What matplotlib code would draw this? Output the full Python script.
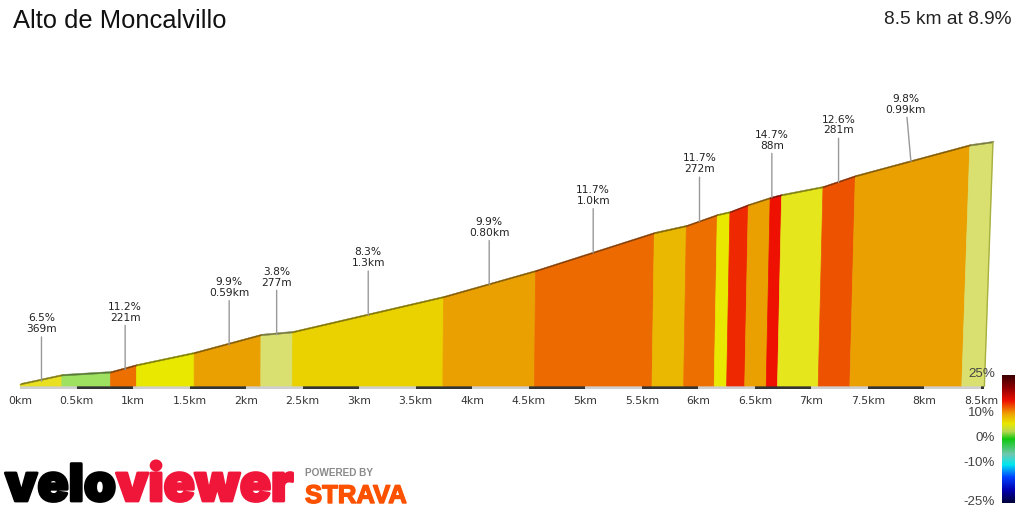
import matplotlib
matplotlib.use("Agg")
import matplotlib.pyplot as plt
import matplotlib.patheffects as pe
from matplotlib.colors import LinearSegmentedColormap, to_rgb
import numpy as np

# climb profile, boundaries of each gradient block
dist_km = [0, 0.37, 0.80, 1.03, 1.54, 2.13, 2.41, 3.74, 4.55, 5.59, 5.87, 6.14,
           6.25, 6.41, 6.60, 6.70, 7.06, 7.34, 8.33, 8.53]
elev_m = [3, 31, 40, 62, 100, 156, 165, 274, 355, 473, 495, 529,
          538, 560, 582, 591, 616, 650, 746, 756]
seg_colors = ["#e8e020", "#9ee05f", "#ec6f00", "#e8e800", "#eaa000", "#d9e070",
              "#ead200", "#eaa000", "#ec6a00", "#eab800", "#ec6f00", "#e8e800",
              "#ee2800", "#eaa000", "#ee1000", "#e6e61c", "#ec5200", "#eaa000",
              "#d9e070"]

# callouts
label_text = ["6.5%\n369m", "11.2%\n221m", "9.9%\n0.59km", "3.8%\n277m", "8.3%\n1.3km",
              "9.9%\n0.80km", "11.7%\n1.0km", "11.7%\n272m", "14.7%\n88m",
              "12.6%\n281m", "9.8%\n0.99km"]
label_km = [0.19, 0.93, 1.85, 2.27, 3.08, 4.15, 5.07, 6.01, 6.65, 7.24, 7.88]
label_elev = [15, 51, 128, 160, 220, 315, 414, 512, 586, 633, 698]

tick_km = np.arange(0, 9, 0.5)
tick_labels = ["0km", "0.5km", "1km", "1.5km", "2km", "2.5km", "3km", "3.5km", "4km",
               "4.5km", "5km", "5.5km", "6km", "6.5km", "7km", "7.5km", "8km", "8.5km"]

# gradient scale
scale_vals = [-25, -20, -15, -10, -6, 0, 3, 6, 10, 15, 20, 25]
scale_cols = ["#00003a", "#0000b0", "#0040ff", "#00e8f0", "#70c8b0", "#10c810",
              "#b8d850", "#e8e800", "#eea000", "#ee1000", "#900000", "#3a0000"]
scale_ticks = [25, 10, 0, -10, -25]

PX_KM = 113.06
M_PX = 3.11
BASE_PX = 386
LEAN = 1.37e-6

fig = plt.figure(figsize=(10.24, 5.12), dpi=100)
ax = fig.add_axes([0, 0, 1, 1])
ax.set_xlim(-20 / PX_KM, (1024 - 20) / PX_KM)
ax.set_ylim(-(512 - BASE_PX) * M_PX, BASE_PX * M_PX)
ax.axis("off")


def top_x(km, elev):
    return km + LEAN * km * km * elev


def darken(col, f=0.55):
    return tuple(c * f for c in to_rgb(col))


# baseline strip
ax.broken_barh([(0, dist_km[-1])], (-9, 9), facecolors="#cfcfcf", zorder=1)
dark = [(k, 0.5) for k in tick_km[1::2]]
dark[-1] = (8.5, dist_km[-1] - 8.5)
ax.broken_barh(dark, (-9, 9), facecolors="#333333", zorder=2)

# gradient blocks + top rim
for i, col in enumerate(seg_colors):
    x0, x1 = dist_km[i], dist_km[i + 1]
    e0, e1 = elev_m[i], elev_m[i + 1]
    t0, t1 = top_x(x0, e0), top_x(x1, e1)
    ax.fill([x0, t0, t1, x1], [0, e0, e1, 0], color=col, lw=0.5, zorder=3)
    ax.fill([t0, t1, t1 + 0.01, t0 + 0.01], [e0, e1, e1 + 5, e0 + 5],
            color=darken(col), lw=0.3, zorder=4)

# olive edge on the last block
ax.plot([dist_km[-1], top_x(dist_km[-1], elev_m[-1])], [0, elev_m[-1]],
        color="#a8b040", lw=1, zorder=5)

# callouts
for txt, km, el in zip(label_text, label_km, label_elev):
    # the last label sits a little left of its leader
    dx = -0.045 if txt.startswith("9.8%") else 0
    ax.annotate(txt, xy=(km, el), xytext=(km + dx, el + 47 * M_PX), ha="center", va="bottom",
                fontsize=7.7, color="#222222", linespacing=1.12, family="DejaVu Sans",
                arrowprops=dict(arrowstyle="-", color="#999999", lw=1,
                                shrinkA=0, shrinkB=0), zorder=6)

for k, t in zip(tick_km, tick_labels):
    ax.text(k, -15 * M_PX, t, ha="center", va="center", fontsize=7.8,
            color="#333333", family="DejaVu Sans")

fig.text(13 / 1024, 1 - 21 / 512, "Alto de Moncalvillo", fontsize=18.4, va="center",
         family="Liberation Sans", color="#111111")
fig.text(1011 / 1024, 1 - 19 / 512, "8.5 km at 8.9%", fontsize=13.8, va="center", ha="right",
         family="Liberation Sans", color="#222222")

# colour scale
cax = fig.add_axes([1002 / 1024, 1 - 503 / 512, 13 / 1024, 128 / 512])
stops = [(v + 25) / 50 for v in scale_vals]
cmap = LinearSegmentedColormap.from_list("grad", list(zip(stops, scale_cols)))
cax.imshow(np.linspace(25, -25, 256).reshape(-1, 1), aspect="auto", cmap=cmap,
           vmin=-25, vmax=25, extent=[0, 1, -25, 25])
cax.axis("off")
for v in scale_ticks:
    y_px = 438 - v * 2.55
    fig.text(995 / 1024, 1 - y_px / 512, f"{v}%", ha="right", va="center", fontsize=9.6,
             family="Liberation Sans", color="#444444", zorder=10)

# logos
fig.text(5 / 1024, 1 - 501 / 512, "velo", fontsize=37, weight=900, family="Inter",
         color="#000000", va="baseline",
         path_effects=[pe.withStroke(linewidth=2, foreground="#000000")])
fig.text(116 / 1024, 1 - 501 / 512, "viewer", fontsize=37, weight=900, family="Inter",
         color="#f0163a", va="baseline",
         path_effects=[pe.withStroke(linewidth=2, foreground="#f0163a")])
fig.text(305 / 1024, 1 - 473 / 512, "POWERED BY", fontsize=7.2, weight="bold", family="Liberation Sans",
         color="#8a8a8a", va="center")
fig.text(305 / 1024, 1 - 503 / 512, "STRAVA", fontsize=18.5, weight="bold", family="Liberation Sans",
         color="#fc5200", va="baseline",
         path_effects=[pe.withStroke(linewidth=1, foreground="#fc5200")])

fig.savefig("out.png", dpi=100)
